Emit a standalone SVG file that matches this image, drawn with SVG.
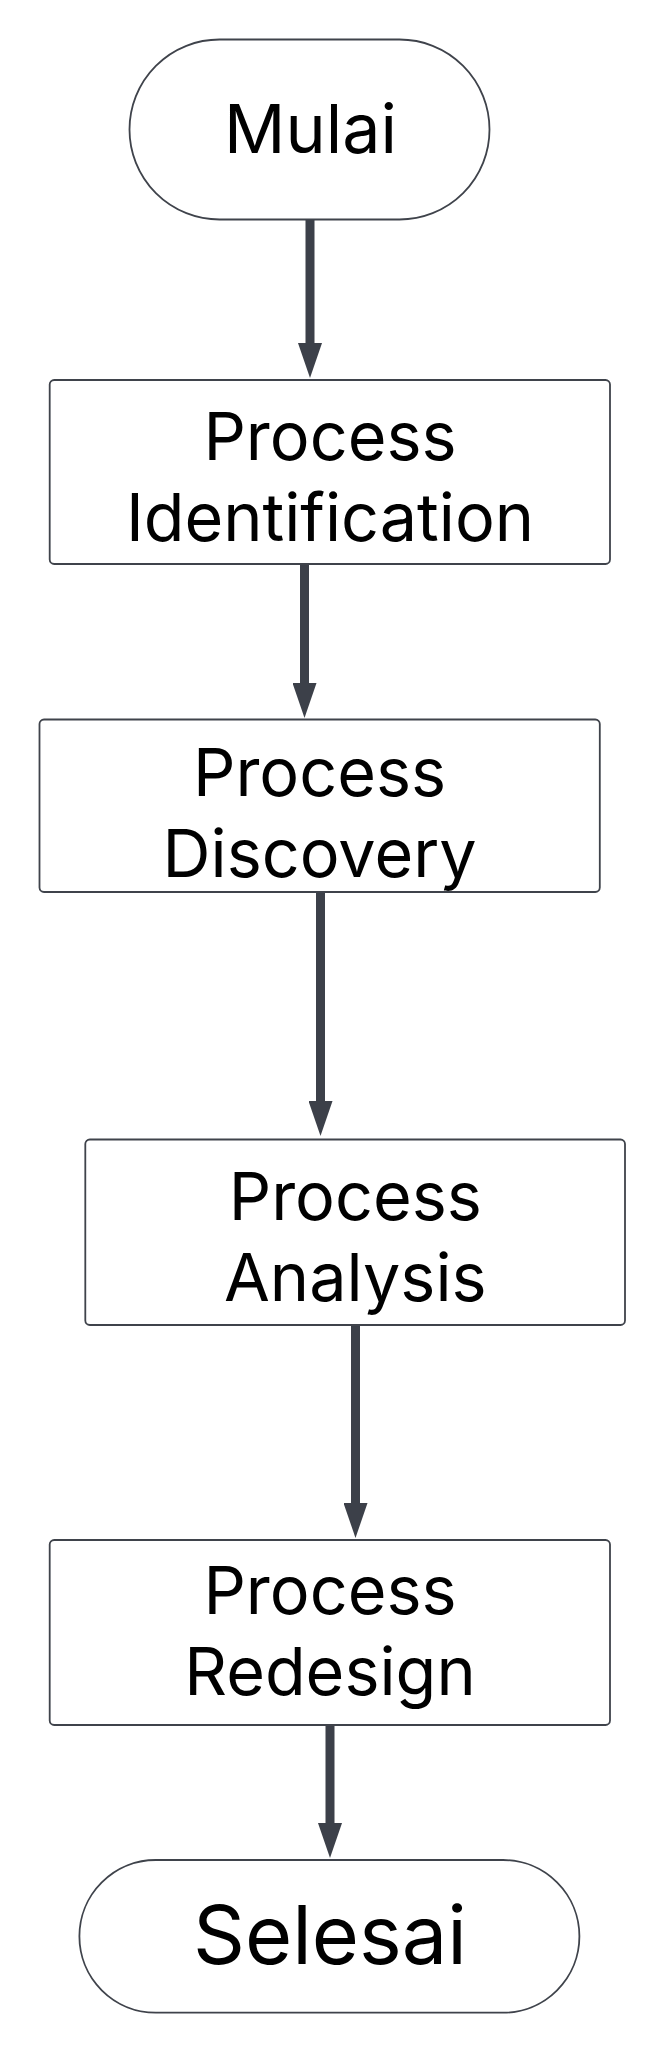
<svg xmlns="http://www.w3.org/2000/svg" width="666" height="2053" viewBox="0 0 666 2053">
<style>
.shape{fill:#ffffff;stroke:#3f434b;stroke-width:1.8}
.lbl{font-family:Inter,"Noto Sans","Liberation Sans",sans-serif;font-size:66.5px;fill:#000000;text-anchor:middle}
.big{font-size:68px}
.huge{font-size:81px}
.conn{stroke:#3c4049;stroke-width:9;fill:none}
</style>
<defs>
<marker id="ah" markerUnits="userSpaceOnUse" viewBox="0 0 35 24" markerWidth="35" markerHeight="24" refX="2" refY="12" orient="auto">
<path d="M0,0 L35,12 L0,24 Z" fill="#3c4049"/>
</marker>
</defs>
<rect width="666" height="2053" fill="#ffffff"/>
<g id="connectors">
<line class="conn" x1="310" y1="219" x2="310" y2="345" marker-end="url(#ah)"/>
<line class="conn" x1="304.5" y1="564" x2="304.5" y2="685" marker-end="url(#ah)"/>
<line class="conn" x1="320.5" y1="892" x2="320.5" y2="1103" marker-end="url(#ah)"/>
<line class="conn" x1="355.5" y1="1325" x2="355.5" y2="1505" marker-end="url(#ah)"/>
<line class="conn" x1="330" y1="1725" x2="330" y2="1825" marker-end="url(#ah)"/>
</g>
<g id="mulai">
<rect class="shape" x="129.5" y="39.5" width="360" height="180" rx="90" ry="90"/>
<text class="lbl big" x="310.5" y="153">Mulai</text>
</g>
<g id="identification">
<rect class="shape" x="49.7" y="380" width="560.3" height="184" rx="4.5"/>
<text class="lbl" x="330" y="460">Process</text>
<text class="lbl" x="330" y="541">Identification</text>
</g>
<g id="discovery">
<rect class="shape" x="39.5" y="719.5" width="560.3" height="172.5" rx="4.5"/>
<text class="lbl" x="319.6" y="796">Process</text>
<text class="lbl" x="319.6" y="877">Discovery</text>
</g>
<g id="analysis">
<rect class="shape" x="85.3" y="1139.5" width="539.7" height="185.5" rx="4.5"/>
<text class="lbl" x="355.3" y="1220">Process</text>
<text class="lbl" x="355.3" y="1301">Analysis</text>
</g>
<g id="redesign">
<rect class="shape" x="49.7" y="1540" width="560.3" height="185" rx="4.5"/>
<text class="lbl" x="330" y="1614">Process</text>
<text class="lbl" x="330" y="1695">Redesign</text>
</g>
<g id="selesai">
<rect class="shape" x="79.4" y="1860" width="500" height="152.7" rx="76.35" ry="76.35"/>
<text class="lbl huge" x="330" y="1964">Selesai</text>
</g>
</svg>
